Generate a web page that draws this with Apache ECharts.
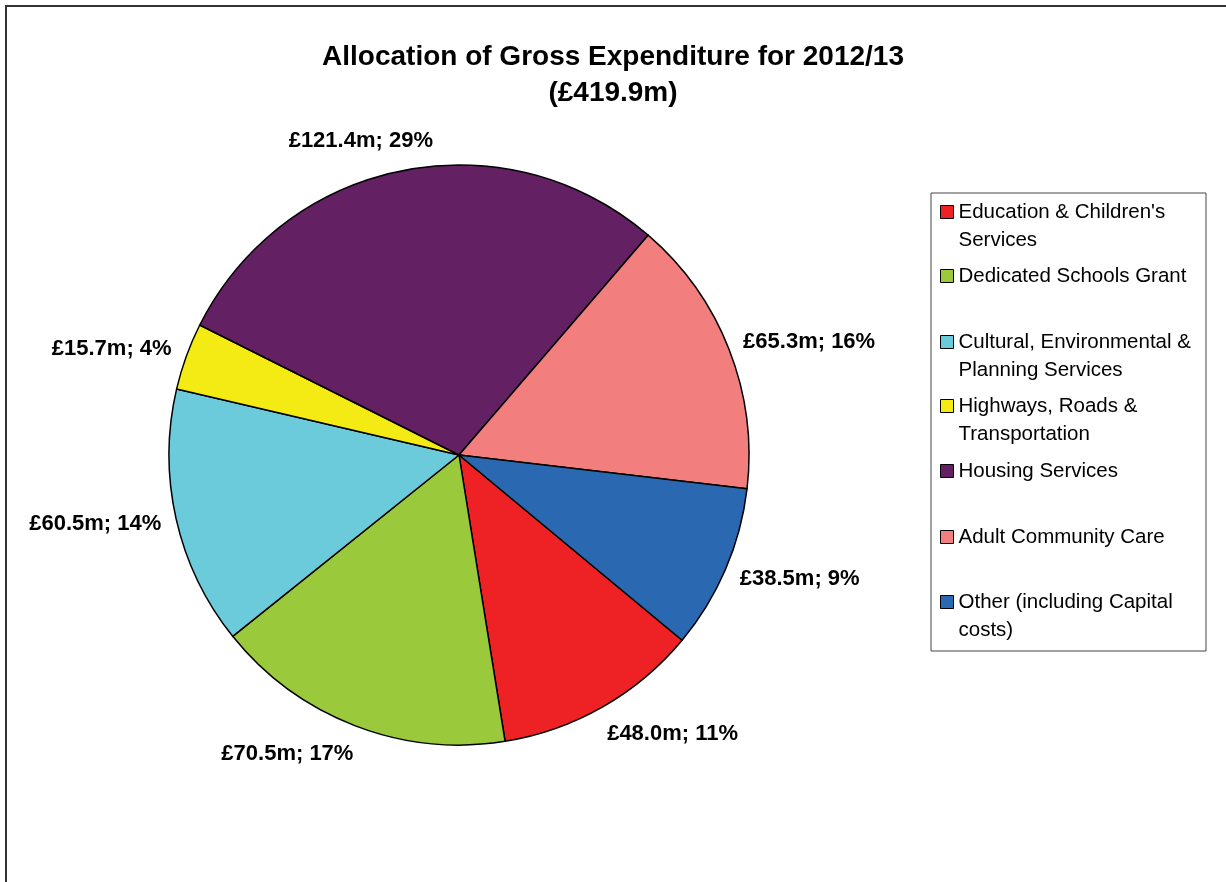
<!DOCTYPE html>
<html>
<head>
<meta charset="utf-8">
<title>Allocation of Gross Expenditure</title>
<script src="https://cdn.jsdelivr.net/npm/echarts@6/dist/echarts.min.js"></script>
<style>
  html, body { margin: 0; padding: 0; background: #fff; }
  #chart { width: 1226px; height: 882px; }
</style>
</head>
<body>
<div id="chart"></div>
<script>
// data
var categories = [
    'Education & Children\'s\nServices',
    'Dedicated Schools Grant',
    'Cultural, Environmental &\nPlanning Services',
    'Highways, Roads &\nTransportation',
    'Housing Services',
    'Adult Community Care',
    'Other (including Capital\ncosts)'
];
var spend = [48.0, 70.5, 60.5, 15.7, 121.4, 65.3, 38.5];
var colours = ['#ee2224', '#9aca3c', '#6bcbdb', '#f5eb14', '#632062', '#f37e7e', '#2a68b1'];
var titleText = 'Allocation of Gross Expenditure for 2012/13\n(£419.9m)';

var FONT = 'Liberation Sans';
var LH = 28;
var CX = 459, CY = 455, R = 290, START = 39.7;   // start = degrees below 3 o'clock
// first line centre of each legend entry (rows are not evenly sized)
var legendRows = [212, 276, 342, 406, 471, 537, 602];

var chart = echarts.init(document.getElementById('chart'));

var total = spend.reduce(function (a, b) { return a + b; }, 0);
var midAngles = [];
var acc = 0;
spend.forEach(function (v) {
    midAngles.push((START + (acc + v / 2) / total * 360) * Math.PI / 180);
    acc += v;
});

//legend: one per entry so the icon sits on the first text line
var legends = categories.map(function (name, i) {
    var twoLines = name.indexOf('\n') >= 0;
    return {
        orient: 'vertical',
        left: 940,
        top: legendRows[i] - (twoLines ? LH * 1.5 : LH / 2),
        padding: 0,
        itemWidth: 13,
        itemHeight: 13,
        itemGap: 0,
        selectedMode: false,
        formatter: function (n) { return twoLines ? ' \n' + n : n; },
        data: [{ name: name, icon: 'rect', itemStyle: { borderColor: '#000', borderWidth: 1 } }],
        textStyle: {
            fontFamily: FONT,
            fontSize: 20.5,
            color: '#000',
            lineHeight: LH
        }
    };
});

// place labels like the spreadsheet does: just outside the rim, pushed sideways
function placeLabel(params) {
    var a = midAngles[params.dataIndex];
    var ux = Math.cos(a), uy = Math.sin(a);
    var hw = params.labelRect.width / 2;
    var hh = params.labelRect.height / 2 - 3;
    var gap = 22;
    var fx = Math.min(0.9, Math.abs(ux) * 2.6) * (ux < 0 ? -1 : 1);
    var fy = Math.max(0, Math.min(1, (Math.abs(uy) - 0.35) * 2)) * (uy < 0 ? -1 : 1);
    return {
        x: CX + (R + gap) * ux + hw * fx,
        y: CY + (R + gap) * uy + hh * fy,
        align: 'center',
        verticalAlign: 'middle'
    };
}

var option = {
    backgroundColor: '#fff',
    animation: false,
    color: colours,
    title: {
        text: titleText,
        left: 'center',
        top: 34,
        textStyle: {
            fontFamily: FONT,
            fontSize: 28,
            fontWeight: 'bold',
            color: '#000',
            lineHeight: 36
        }
    },
    legend: legends,
    graphic: [
        {
            type: 'rect',
            shape: { x: 6, y: 6, width: 1260, height: 900 },
            style: { fill: 'none', stroke: '#333', lineWidth: 2 },
            silent: true
        },
        {
            type: 'rect',
            shape: { x: 931, y: 193, width: 275, height: 458 },
            style: { fill: 'none', stroke: '#444', lineWidth: 1 },
            silent: true
        }
    ],
    series: [{
        type: 'pie',
        center: [CX, CY],
        radius: R,
        startAngle: -START,
        clockwise: true,
        avoidLabelOverlap: false,
        itemStyle: { borderColor: '#000', borderWidth: 1.5 },
        label: {
            show: true,
            position: 'outside',
            fontFamily: FONT,
            fontSize: 22,
            fontWeight: 'bold',
            color: '#000',
            formatter: function (p) {
                return '£' + p.value.toFixed(1) + 'm; ' + Math.round(p.percent) + '%';
            }
        },
        labelLine: { show: false, length: 10, length2: 8 },
        labelLayout: placeLabel,
        emphasis: { disabled: true },
        data: categories.map(function (c, i) {
            return { name: c, value: spend[i] };
        })
    }]
};

chart.setOption(option);
</script>
</body>
</html>
